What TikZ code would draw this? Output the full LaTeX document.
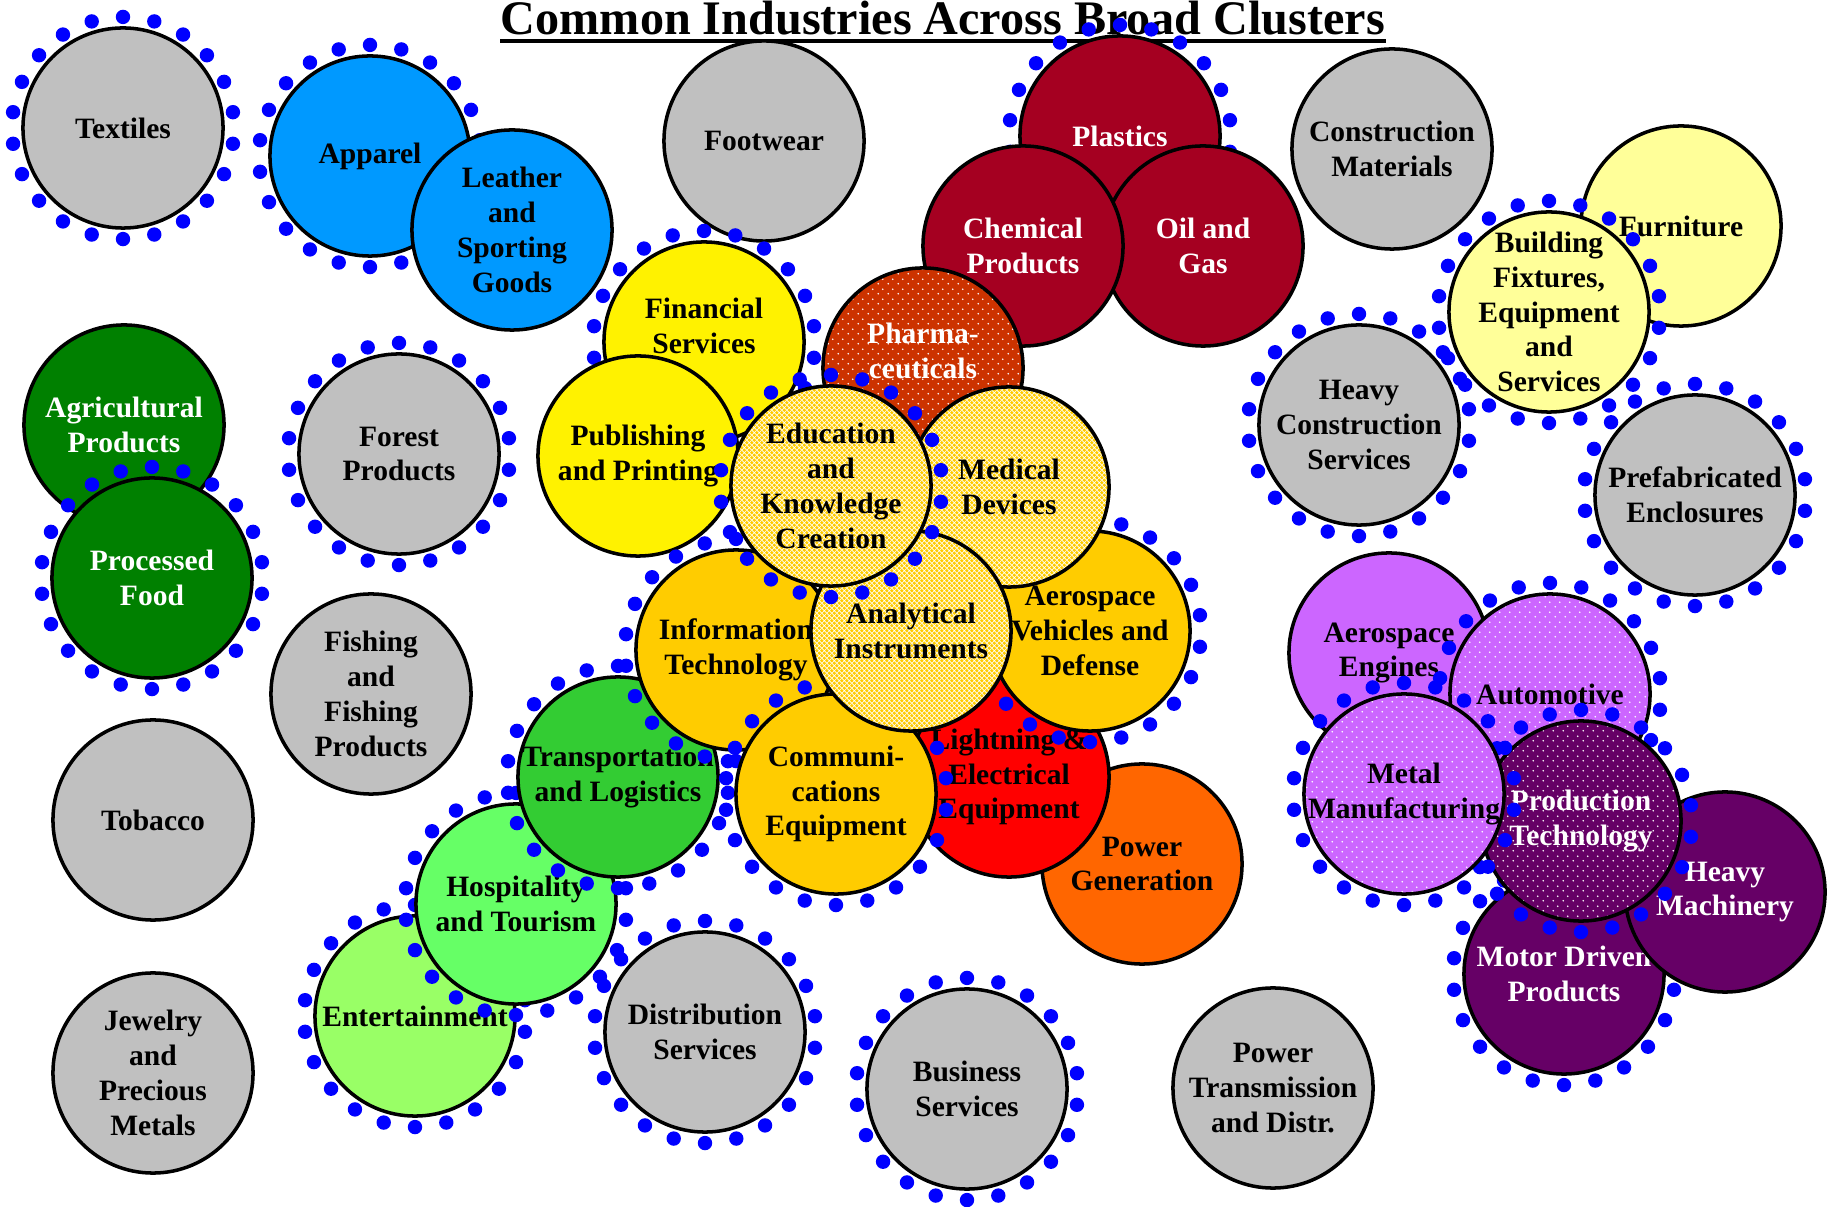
\documentclass[tikz,border=0pt]{standalone}
\usepackage{fontspec}
\setmainfont{Liberation Serif}
\usetikzlibrary{patterns.meta}

\definecolor{ggray}{HTML}{C0C0C0}
\definecolor{skyblue}{HTML}{0099FF}
\definecolor{wine}{HTML}{A50021}
\definecolor{rust}{HTML}{CC3300}
\definecolor{amber}{HTML}{FFCC00}
\definecolor{lemon}{HTML}{FFFF99}
\definecolor{darkgrn}{HTML}{008000}
\definecolor{kelly}{HTML}{33CC33}
\definecolor{mint}{HTML}{66FF66}
\definecolor{palegrn}{HTML}{99FF66}
\definecolor{lilac}{HTML}{CC66FF}
\definecolor{plum}{HTML}{660066}
\definecolor{orng}{HTML}{FF6600}

\tikzdeclarepattern{name=specks, type=uncolored,
  bottom left={(0pt,0pt)}, top right={(2.7pt,2.7pt)}, tile size={(2.7pt,2.7pt)},
  code={\fill (0.675pt,0.675pt) circle (0.25pt) (2.025pt,2.025pt) circle (0.25pt);}}
\tikzdeclarepattern{name=trellis, type=uncolored,
  bottom left={(0pt,0pt)}, top right={(1.5pt,1.5pt)}, tile size={(1.5pt,1.5pt)},
  code={\draw[line width=0.2pt] (0pt,0pt) -- (1.5pt,1.5pt) (0pt,1.5pt) -- (1.5pt,0pt);}}

\newcommand{\indfont}{\fontsize{8.4}{9.9}\selectfont\bfseries}
\newcommand{\titlefont}{\fontsize{13.7}{16}\selectfont\bfseries}
\newcommand{\dotring}[1]{\foreach \a in {0,...,21} \fill[ringdot] (#1.center) ++(90+\a*360/22:1.11cm) circle (0.072cm);}

\tikzset{
  ind/.style={circle, draw, line width=1pt, minimum size=2cm, inner sep=0pt, fill=#1},
  specked/.style={circle, draw, line width=1pt, minimum size=2cm, inner sep=0pt, preaction={fill=#1}, pattern=specks, pattern color=white},
  hatched/.style={circle, draw, line width=1pt, minimum size=2cm, inner sep=0pt, preaction={fill=amber}, pattern=trellis, pattern color=white},
  txt/.style={align=center, font=\indfont, inner sep=0pt, yshift=0pt},
  wtxt/.style={txt, text=white},
  ringdot/.style={fill=blue}
}

\begin{document}
\begin{tikzpicture}[x=0.01cm, y=-0.01cm]
\useasboundingbox (0,0) rectangle (1836,1207);
\fill[white] (0,0) rectangle (1836,1207);

\node[anchor=base, inner sep=0pt, font=\titlefont] (title) at (943,35) {Common Industries Across Broad Clusters};
\draw[line width=1.1pt] ([yshift=-1.7pt]title.base west) -- ([yshift=-1.7pt]title.base east);

\node[ind=ggray, label={[txt]center:Textiles}] (textiles) at (123,128) {};
\dotring{textiles}
\node[ind=skyblue, label={[txt]center:Apparel}] (apparel) at (370,156) {};
\dotring{apparel}
\node[ind=skyblue, label={[txt]center:Leather\\and\\Sporting\\Goods}] (leather) at (512,230) {};
\node[ind=ggray, label={[txt]center:Footwear}] (footwear) at (764,141) {};

\node[ind=wine, label={[wtxt]center:Plastics}] (plastics) at (1120,136) {};
\dotring{plastics}
\node[ind=wine, label={[wtxt]center:Oil and\\Gas}] (oilgas) at (1203,246) {};
\node[ind=wine, label={[wtxt]center:Chemical\\Products}] (chemical) at (1023,246) {};
\node[ind=ggray, label={[txt]center:Construction\\Materials}] (constrmat) at (1392,149) {};

\node[ind=lemon, label={[txt]center:Furniture}] (furniture) at (1681,226) {};
\node[ind=lemon, label={[txt]center:{Building\\Fixtures,\\Equipment\\and\\Services}}] (building) at (1549,312) {};
\dotring{building}
\node[ind=ggray, label={[txt]center:Heavy\\Construction\\Services}] (heavyconstr) at (1359,425) {};
\dotring{heavyconstr}
\node[ind=ggray, label={[txt]center:Prefabricated\\Enclosures}] (prefab) at (1695,495) {};
\dotring{prefab}

\node[ind=darkgrn, label={[wtxt]center:Agricultural\\Products}] (agri) at (124,425) {};
\node[ind=darkgrn, label={[wtxt]center:Processed\\Food}] (procfood) at (152,578) {};
\dotring{procfood}
\node[ind=ggray, label={[txt]center:Forest\\Products}] (forest) at (399,454) {};
\dotring{forest}
\node[ind=ggray, label={[txt]center:Fishing\\and\\Fishing\\Products}] (fishing) at (371,694) {};
\node[ind=ggray, label={[txt]center:Tobacco}] (tobacco) at (153,820) {};
\node[ind=ggray, label={[txt]center:Jewelry\\and\\Precious\\Metals}] (jewelry) at (153,1073) {};

\node[ind=palegrn, label={[txt]center:Entertainment}] (entertain) at (415,1016) {};
\dotring{entertain}
\node[ind=mint, label={[txt]center:Hospitality\\and Tourism}] (hospitality) at (516,904) {};
\dotring{hospitality}
\node[ind=kelly, label={[txt]center:Transportation\\and Logistics}] (transport) at (618,777) {};
\dotring{transport}

\node[ind=yellow, label={[txt, yshift=4.6pt]center:Financial\\Services}] (financial) at (704,342) {};
\dotring{financial}
\node[ind=yellow, label={[txt]center:Publishing\\and Printing}] (publishing) at (638,456) {};
\node[specked=rust, label={[wtxt, yshift=4.8pt]center:Pharma-\\ceuticals}] (pharma) at (923,368) {};
\node[ind=amber, label={[txt]center:Information\\Technology}] (infotech) at (736,650) {};
\dotring{infotech}
\node[ind=orng, label={[txt]center:Power\\Generation}] (powergen) at (1142,864) {};
\node[ind=red, label={[txt]center:Lightning \&\\Electrical\\Equipment}] (lightning) at (1009,777) {};
\node[ind=amber, label={[txt]center:Communi-\\cations\\Equipment}] (communic) at (836,794) {};
\dotring{communic}
\node[ind=amber, label={[txt]center:Aerospace\\Vehicles and\\Defense}] (aerovehicles) at (1090,631) {};
\dotring{aerovehicles}
\node[hatched, label={[txt]center:Medical\\Devices}] (medical) at (1009,487) {};
\node[hatched, label={[txt]center:Analytical\\Instruments}] (analytical) at (911,631) {};
\node[hatched, label={[txt]center:Education\\and\\Knowledge\\Creation}] (education) at (831,486) {};
\dotring{education}

\node[ind=ggray, label={[txt]center:Distribution\\Services}] (distribution) at (705,1032) {};
\dotring{distribution}
\node[ind=ggray, label={[txt]center:Business\\Services}] (business) at (967,1089) {};
\dotring{business}
\node[ind=ggray, label={[txt]center:Power\\Transmission\\and Distr.}] (powertrans) at (1273,1088) {};

\node[ind=lilac, label={[txt]center:Aerospace\\Engines}] (aeroengines) at (1389,653) {};
\node[specked=lilac, label={[txt]center:Automotive}] (automotive) at (1550,694) {};
\dotring{automotive}
\node[ind=plum, label={[wtxt]center:Motor Driven\\Products}] (motordriven) at (1564,974) {};
\dotring{motordriven}
\node[ind=plum, label={[wtxt]center:Heavy\\Machinery}] (heavymach) at (1725,892) {};
\node[specked=plum, label={[wtxt]center:Production\\Technology}] (prodtech) at (1581,821) {};
\dotring{prodtech}
\node[specked=lilac, label={[txt]center:Metal\\Manufacturing}] (metal) at (1404,794) {};
\dotring{metal}
\end{tikzpicture}
\end{document}
